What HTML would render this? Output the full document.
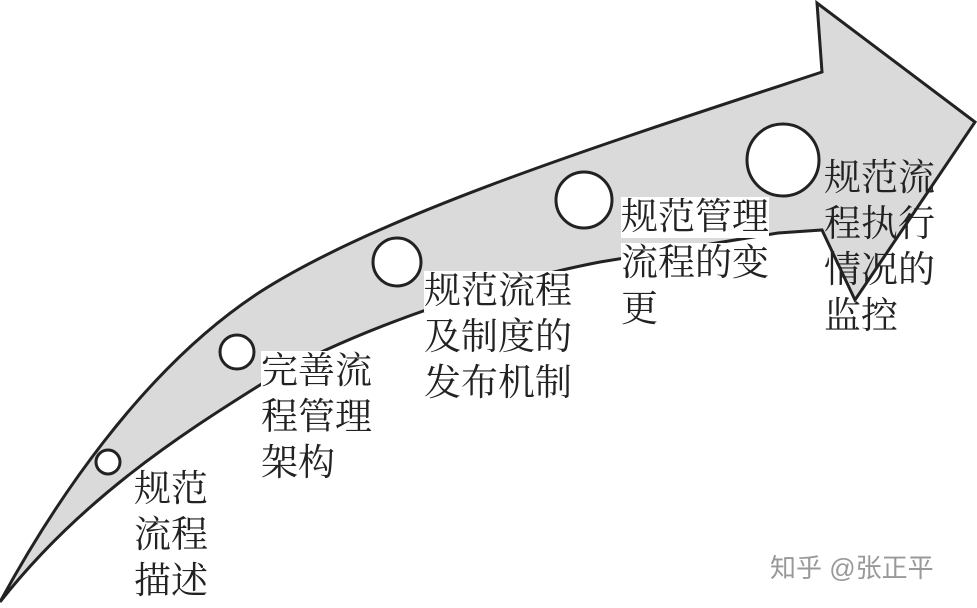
<!DOCTYPE html>
<html><head><meta charset="utf-8"><style>
html,body{margin:0;padding:0;background:#fff;}
body{width:977px;height:608px;position:relative;overflow:hidden;}
.t{position:absolute;font-family:"Liberation Serif","Noto Serif CJK SC",serif;font-size:37px;line-height:46px;color:#222;white-space:pre;}
.w span{background:#fff;}
</style></head><body>
<svg width="977" height="608" style="position:absolute;left:0;top:0">
<path d="M0,602 C50,510 140,370 260,292 C380,215 600,145 822,72 L817,3 L975,122 L855,300 L822,230 L778,233 L600,262 C480,285 330,340 260,385 C180,435 80,500 0,602 Z" fill="#dadada" stroke="#222" stroke-width="3" stroke-linejoin="miter"/>
<g fill="#fff" stroke="#222" stroke-width="3">
<circle cx="108" cy="462" r="12"/>
<circle cx="237" cy="352" r="17"/>
<circle cx="397" cy="262" r="24"/>
<circle cx="584" cy="200" r="28"/>
<circle cx="783" cy="160" r="36"/>
</g>
</svg>
<div class="t" style="left:134px;top:467px">规范
流程
描述</div>
<div class="t w" style="left:261px;top:349px"><span>完善流</span>
<span>程管理</span>
<span>架构</span></div>
<div class="t w" style="left:424px;top:269px"><span>规范流程</span>
<span>及制度的</span>
<span>发布机制</span></div>
<div class="t w" style="left:621px;top:195px"><span>规范管理</span>
<span>流程的变</span>
<span>更</span></div>
<div class="t" style="left:824px;top:156px">规范流
程执行
情况的
监控</div>
<div class="t" style="left:770px;top:550px;font-size:26px;line-height:36px;color:#999;font-family:'Liberation Sans','Noto Sans CJK SC',sans-serif">知乎 @张正平</div>
</body></html>
